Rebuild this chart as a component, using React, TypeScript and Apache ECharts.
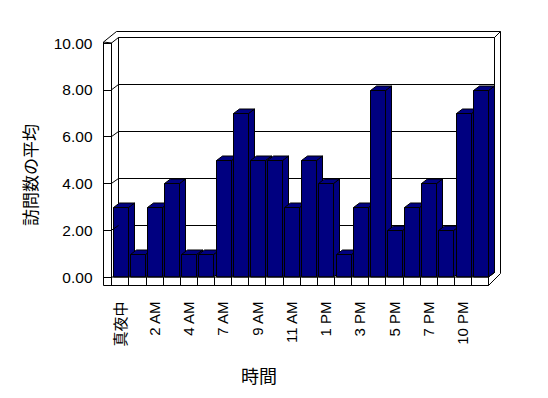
import React, { useEffect, useRef } from "react";
import * as echarts from "echarts";

// ---- data ----
const categories = [
  "真夜中", "1 AM", "2 AM", "3 AM", "4 AM", "6 AM", "7 AM", "8 AM", "9 AM", "10 AM", "11 AM",
  "正午", "1 PM", "2 PM", "3 PM", "4 PM", "5 PM", "6 PM", "7 PM", "8 PM", "10 PM", "11 PM",
];
const visits = [3, 1, 3, 4, 1, 1, 5, 7, 5, 5, 3, 5, 4, 1, 3, 8, 2, 3, 4, 2, 7, 8];
const yTicks = [0, 2, 4, 6, 8, 10];
const yTitle = "訪問数の平均";
const xTitle = "時間";

// ---- layout (pixels) ----
const FL = 111.5, FR = 488.5, FT = 43, FB = 277; // front plane of plot
const FLOOR_B = 285.5; // bottom of floor slab
const WL = 103.5; // outer left of left wall
const BL = 118.5, BR = 494.5, BT = 37.5, BB = 272.5; // back wall
const OT = 31.5, OR = 500.5; // outer frame
const BDX = 6, BDY = -4.5; // bar depth offset
const FONT = "'Liberation Sans', 'Noto Sans CJK JP', sans-serif";
const CJK = "'Noto Sans CJK JP', sans-serif";

const line = (x1: number, y1: number, x2: number, y2: number, z = 5) => ({
  type: "line",
  z,
  shape: { x1, y1, x2, y2 },
  style: { stroke: "#000", lineWidth: 1 },
});

export default function App() {
  const ref = useRef<HTMLDivElement>(null);
  useEffect(() => {
    if (!ref.current) return;
    const chart = echarts.init(ref.current, undefined, { renderer: "svg" });
    const fy = (v: number) => FB - ((FB - FT) * v) / 10;
    const by = (v: number) => BB - ((BB - BT) * v) / 10;

    const graphic: any[] = [
      {
        type: "polygon",
        z: 1,
        shape: { points: [[WL, 42], [FL, 43], [FL, FLOOR_B], [WL, FLOOR_B]] },
        style: { fill: "#fff", stroke: null },
      },
      {
        type: "rect",
        z: 1,
        shape: { x: FL, y: FB, width: FR - FL, height: FLOOR_B - FB },
        style: { fill: "#fff", stroke: null },
      },
      line(WL, 42, WL, FLOOR_B),
      line(WL, 42, FL, 43),
      line(WL, FLOOR_B, FR, FLOOR_B),
      line(FL, FB, FR, FB),
      line(FR, FB, FR, FLOOR_B),
      line(WL, 42, 116.5, OT),
      line(116.5, OT, OR, OT),
      line(BR, BT, OR, OT),
      line(OR, OT, OR, 273.5),
      line(FR, FLOOR_B, OR, 273.5),
      line(FR, FB, BR, BB),
      ...yTicks.filter((v) => v > 0).map((v) => line(FL, fy(v), BL, by(v))),
      {
        type: "text",
        z: 5,
        x: 29,
        y: 175,
        rotation: Math.PI / 2,
        style: {
          text: yTitle,
          fontSize: 17,
          fontFamily: CJK,
          fill: "#000",
          align: "center",
          verticalAlign: "middle",
        },
      },
      {
        type: "text",
        z: 5,
        x: 259,
        y: 375,
        style: {
          text: xTitle,
          fontSize: 18,
          fontFamily: CJK,
          fill: "#000",
          align: "center",
          verticalAlign: "middle",
        },
      },
    ];

    const barStyle = { fill: "#000080", stroke: "#000", lineWidth: 1 };

    chart.setOption({
      animation: false,
      backgroundColor: "#fff",
      textStyle: { fontFamily: FONT },
      grid: [
        {
          left: BL,
          top: BT,
          width: BR - BL,
          height: BB - BT,
          show: true,
          backgroundColor: "#fff",
          borderColor: "#000",
          borderWidth: 1,
        },
        { left: FL, top: FT, width: FR - FL, height: FB - FT },
        { left: FL, top: FB, width: FR - FL, height: FLOOR_B - FB },
      ],
      xAxis: [
        { gridIndex: 0, type: "category", data: categories, show: false },
        { gridIndex: 1, type: "category", data: categories, show: false },
        {
          gridIndex: 2,
          type: "category",
          data: categories,
          z: 10,
          axisLine: { show: false },
          axisTick: { show: false },
          splitLine: { show: true, interval: 0, lineStyle: { color: "#000", width: 1 } },
          axisLabel: {
            interval: 1,
            rotate: 90,
            margin: 16,
            fontSize: 15,
            color: "#000",
            fontFamily: FONT,
          },
        },
      ],
      yAxis: [
        {
          gridIndex: 0,
          type: "value",
          min: 0,
          max: 10,
          interval: 2,
          axisLine: { show: false },
          axisTick: { show: false },
          axisLabel: { show: false },
          splitLine: { show: true, lineStyle: { color: "#000", width: 1 } },
        },
        {
          gridIndex: 1,
          type: "value",
          min: 0,
          max: 10,
          interval: 2,
          z: 10,
          axisLine: { show: true, lineStyle: { color: "#000", width: 1 } },
          axisTick: { show: true, length: 8, lineStyle: { color: "#000", width: 1 } },
          splitLine: { show: false },
          axisLabel: {
            formatter: (v: number) => v.toFixed(2),
            margin: 19,
            fontSize: 15.5,
            color: "#000",
            fontFamily: FONT,
          },
        },
        { gridIndex: 2, type: "value", show: false },
      ],
      series: [
        {
          type: "custom",
          xAxisIndex: 1,
          yAxisIndex: 1,
          z: 3,
          data: visits.map((v, i) => [i, v]),
          renderItem: (params: any, api: any) => {
            const i = api.value(0);
            const v = api.value(1);
            const top = api.coord([i, v]);
            const base = api.coord([i, 0]);
            const bw = api.size([1, 0])[0];
            const x0 = Math.round(top[0] - bw / 2 + bw * 0.075) + 0.5;
            const w = Math.round(bw * 0.85);
            const y1 = Math.round(top[1]) + 0.5;
            const y0 = base[1];
            return {
              type: "group",
              children: [
                {
                  type: "polygon",
                  shape: {
                    points: [
                      [x0 + w, y1],
                      [x0 + w + BDX, y1 + BDY],
                      [x0 + w + BDX, y0 + BDY],
                      [x0 + w, y0],
                    ],
                  },
                  style: barStyle,
                },
                {
                  type: "polygon",
                  shape: {
                    points: [
                      [x0, y1],
                      [x0 + w, y1],
                      [x0 + w + BDX, y1 + BDY],
                      [x0 + BDX, y1 + BDY],
                    ],
                  },
                  style: barStyle,
                },
                {
                  type: "rect",
                  shape: { x: x0, y: y1, width: w, height: y0 - y1 },
                  style: barStyle,
                },
              ],
            };
          },
        },
      ],
      graphic,
    });
    return () => chart.dispose();
  }, []);
  return (
    <div
      ref={ref}
      style={{ position: "fixed", left: 0, top: 0, width: 548, height: 398 }}
    />
  );
}
